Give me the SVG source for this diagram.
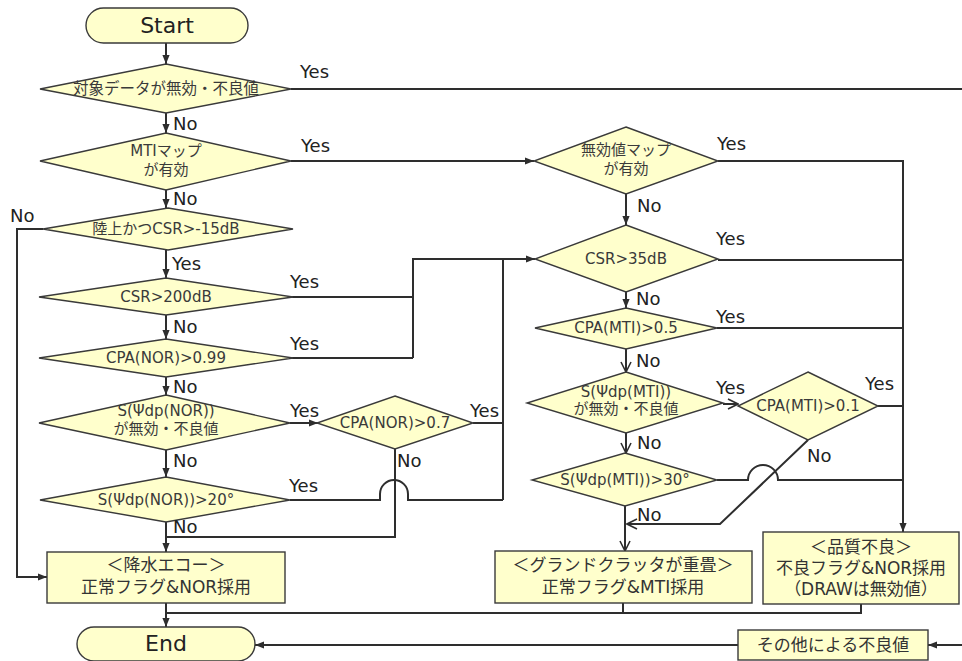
<svg xmlns="http://www.w3.org/2000/svg" width="962" height="661" viewBox="0 0 962 661">
  <style>
    .shape { fill: #FFFFCC; stroke: #3a3a3a; stroke-width: 1.4; }
    .line { fill: none; stroke: #2e2e2e; stroke-width: 2; }
    .txt { font-family: "DejaVu Sans", "Noto Sans CJK JP", sans-serif; fill: #333; }
    .cond { font-size: 15px; text-anchor: middle; fill: #3a3a3a; }
    .lbl { font-size: 18px; fill: #222; }
    .box { font-size: 17px; text-anchor: middle; }
    .term { font-size: 22px; text-anchor: middle; fill: #222; }
  </style>
  <defs>
    <marker id="arr" viewBox="0 0 10 10" refX="10" refY="5" markerWidth="9" markerHeight="9" markerUnits="userSpaceOnUse" orient="auto">
      <path d="M0,1 L10,5 L0,9 Z" fill="#2e2e2e"/>
    </marker>
    <marker id="arrOpen" viewBox="0 0 12 12" refX="11" refY="6" markerWidth="12" markerHeight="12" markerUnits="userSpaceOnUse" orient="auto">
      <path d="M1,1 L11,6 L1,11" fill="none" stroke="#2e2e2e" stroke-width="1.6"/>
    </marker>
  </defs>

  <!-- connectors -->
  <g id="connectors" class="line">
    <!-- main column -->
    <line x1="166" y1="43" x2="166" y2="64" marker-end="url(#arr)"/>
    <line x1="166" y1="113" x2="166" y2="133" marker-end="url(#arr)"/>
    <line x1="166" y1="190" x2="166" y2="208" marker-end="url(#arr)"/>
    <line x1="166" y1="250" x2="166" y2="278" marker-end="url(#arr)"/>
    <line x1="166" y1="315" x2="166" y2="339" marker-end="url(#arr)"/>
    <line x1="166" y1="377" x2="166" y2="395" marker-end="url(#arr)"/>
    <line x1="166" y1="450" x2="166" y2="477" marker-end="url(#arr)"/>
    <line x1="166" y1="522" x2="166" y2="552" marker-end="url(#arr)"/>
    <line x1="166" y1="603" x2="166" y2="627" marker-end="url(#arr)"/>

    <!-- invalid target data: straight out to the right -->
    <line x1="291" y1="89" x2="962" y2="89"/>
    <!-- MTI map valid -> invalid-value map -->
    <line x1="291" y1="161" x2="534" y2="161" marker-end="url(#arr)"/>
    <!-- land & CSR: No -> rain echo -->
    <polyline points="43,229 17,229 17,577 47,577" marker-end="url(#arr)"/>
    <!-- CSR>200dB / CPA(NOR)>0.99 Yes -> CSR>35dB -->
    <polyline points="292,297 413,297 413,358"/>
    <polyline points="292,358 413,358"/>
    <polyline points="413,297 413,259 535,259" marker-end="url(#arr)"/>
    <!-- S(Psi dp(NOR)) invalid: Yes -> CPA(NOR)>0.7 -->
    <line x1="290" y1="423" x2="318" y2="423" marker-end="url(#arr)"/>
    <!-- CPA(NOR)>0.7 Yes and S>20 Yes join the bus at x=503 -->
    <line x1="503" y1="259" x2="503" y2="500"/>
    <line x1="473" y1="423" x2="503" y2="423"/>
    <path d="M290,500 L380,500 L380,494 A14,14 0 0 1 408,494 L408,500 L503,500"/>
    <!-- CPA(NOR)>0.7 No -> rain echo -->
    <polyline points="395,449 395,537 166,537"/>

    <!-- right column -->
    <line x1="626" y1="194" x2="626" y2="225" marker-end="url(#arr)"/>
    <line x1="626" y1="292" x2="626" y2="308" marker-end="url(#arr)"/>
    <line x1="626" y1="349" x2="626" y2="372" marker-end="url(#arrOpen)"/>
    <line x1="626" y1="433" x2="626" y2="453" marker-end="url(#arrOpen)"/>
    <line x1="625" y1="506" x2="625" y2="551" marker-end="url(#arrOpen)"/>
    <line x1="723" y1="404" x2="738" y2="404" marker-end="url(#arrOpen)"/>
    <!-- Yes branches to the quality-fail box -->
    <polyline points="718,161 903,161 903,532" marker-end="url(#arr)"/>
    <line x1="718" y1="260" x2="903" y2="260"/>
    <line x1="717" y1="328" x2="903" y2="328"/>
    <line x1="878" y1="406" x2="903" y2="406"/>
    <path d="M717,480 L748,480 A15,15 0 0 1 778,480 L902,480"/>
    <!-- CPA(MTI)>0.1 No -> ground clutter -->
    <polyline points="808,440 720,524 627,524" marker-end="url(#arrOpen)"/>

    <!-- outputs to End -->
    <polyline points="623,603 623,613 166,613"/>
    <polyline points="861,604 861,613 623,613"/>
    <line x1="738" y1="645" x2="255" y2="645" marker-end="url(#arr)"/>
    <line x1="962" y1="645" x2="928" y2="645" marker-end="url(#arr)"/>
  </g>

  <!-- terminators -->
  <g id="start">
    <rect class="shape" x="86" y="8" width="162" height="35" rx="17.5"/>
    <text class="txt term" x="167" y="33">Start</text>
  </g>
  <g id="end">
    <rect class="shape" x="77" y="627" width="178" height="34" rx="17"/>
    <text class="txt term" x="166" y="651">End</text>
  </g>

  <!-- left column decisions -->
  <g id="d-target-invalid">
    <polygon class="shape" points="166,64 291,89 166,113 40,89"/>
    <text class="txt cond" x="166" y="94" style="font-size:15.5px">対象データが無効・不良値</text>
  </g>
  <g id="d-mti-map">
    <polygon class="shape" points="166,133 291,161 166,190 40,161"/>
    <text class="txt cond" x="166" y="156">MTIマップ</text>
    <text class="txt cond" x="166" y="175">が有効</text>
  </g>
  <g id="d-land-csr">
    <polygon class="shape" points="168,208 293,229 168,250 43,229"/>
    <text class="txt cond" x="166" y="234">陸上かつCSR&gt;-15dB</text>
  </g>
  <g id="d-csr200">
    <polygon class="shape" points="166,278 293,297 166,315 39,297"/>
    <text class="txt cond" x="166" y="302">CSR&gt;200dB</text>
  </g>
  <g id="d-cpa-nor099">
    <polygon class="shape" points="166,339 293,358 166,377 39,358"/>
    <text class="txt cond" x="166" y="363">CPA(NOR)&gt;0.99</text>
  </g>
  <g id="d-psi-nor-invalid">
    <polygon class="shape" points="166,395 290,423 166,450 39,423"/>
    <text class="txt cond" x="166" y="416">S(Ψdp(NOR))</text>
    <text class="txt cond" x="166" y="434">が無効・不良値</text>
  </g>
  <g id="d-cpa-nor07">
    <polygon class="shape" points="395,396 473,423 395,449 317,423"/>
    <text class="txt cond" x="395" y="428">CPA(NOR)&gt;0.7</text>
  </g>
  <g id="d-psi-nor20">
    <polygon class="shape" points="166,477 290,500 166,522 40,500"/>
    <text class="txt cond" x="166" y="505">S(Ψdp(NOR))&gt;20°</text>
  </g>

  <!-- right column decisions -->
  <g id="d-invalid-map">
    <polygon class="shape" points="626,127 718,161 626,194 534,161"/>
    <text class="txt cond" x="626" y="155">無効値マップ</text>
    <text class="txt cond" x="626" y="174">が有効</text>
  </g>
  <g id="d-csr35">
    <polygon class="shape" points="626,225 718,259 626,292 535,259"/>
    <text class="txt cond" x="626" y="264">CSR&gt;35dB</text>
  </g>
  <g id="d-cpa-mti05">
    <polygon class="shape" points="626,308 717,328 626,349 535,328"/>
    <text class="txt cond" x="626" y="333">CPA(MTI)&gt;0.5</text>
  </g>
  <g id="d-psi-mti-invalid">
    <polygon class="shape" points="626,372 723,403 626,433 527,403"/>
    <text class="txt cond" x="626" y="397">S(Ψdp(MTI))</text>
    <text class="txt cond" x="626" y="414">が無効・不良値</text>
  </g>
  <g id="d-cpa-mti01">
    <polygon class="shape" points="808,372 878,406 808,440 738,406"/>
    <text class="txt cond" x="808" y="411">CPA(MTI)&gt;0.1</text>
  </g>
  <g id="d-psi-mti30">
    <polygon class="shape" points="625,453 717,480 625,506 532,480"/>
    <text class="txt cond" x="625" y="485">S(Ψdp(MTI))&gt;30°</text>
  </g>

  <!-- result boxes -->
  <g id="b-rain">
    <rect class="shape" x="47" y="552" width="238" height="51"/>
    <text class="txt box" x="166" y="571">＜降水エコー＞</text>
    <text class="txt box" x="166" y="593">正常フラグ&amp;NOR採用</text>
  </g>
  <g id="b-clutter">
    <rect class="shape" x="495" y="551" width="257" height="52"/>
    <text class="txt box" x="623" y="571">＜グランドクラッタが重畳＞</text>
    <text class="txt box" x="623" y="593">正常フラグ&amp;MTI採用</text>
  </g>
  <g id="b-quality">
    <rect class="shape" x="763" y="532" width="196" height="72"/>
    <text class="txt box" x="861" y="553">＜品質不良＞</text>
    <text class="txt box" x="861" y="574">不良フラグ&amp;NOR採用</text>
    <text class="txt box" x="861" y="595">（DRAWは無効値）</text>
  </g>
  <g id="b-other">
    <rect class="shape" x="738" y="630" width="190" height="30"/>
    <text class="txt box" x="833" y="651">その他による不良値</text>
  </g>

  <!-- branch labels -->
  <g id="labels" class="txt lbl">
    <text x="300" y="78">Yes</text>
    <text x="173" y="130">No</text>
    <text x="301" y="152">Yes</text>
    <text x="173" y="205">No</text>
    <text x="10" y="222">No</text>
    <text x="172" y="270">Yes</text>
    <text x="290" y="288">Yes</text>
    <text x="173" y="333">No</text>
    <text x="290" y="350">Yes</text>
    <text x="173" y="393">No</text>
    <text x="290" y="417">Yes</text>
    <text x="470" y="417">Yes</text>
    <text x="397" y="467">No</text>
    <text x="173" y="467">No</text>
    <text x="289" y="492">Yes</text>
    <text x="173" y="533">No</text>
    <text x="717" y="150">Yes</text>
    <text x="637" y="212">No</text>
    <text x="716" y="245">Yes</text>
    <text x="636" y="305">No</text>
    <text x="716" y="323">Yes</text>
    <text x="636" y="367">No</text>
    <text x="716" y="394">Yes</text>
    <text x="865" y="390">Yes</text>
    <text x="637" y="449">No</text>
    <text x="807" y="462">No</text>
    <text x="637" y="521">No</text>
  </g>
</svg>
